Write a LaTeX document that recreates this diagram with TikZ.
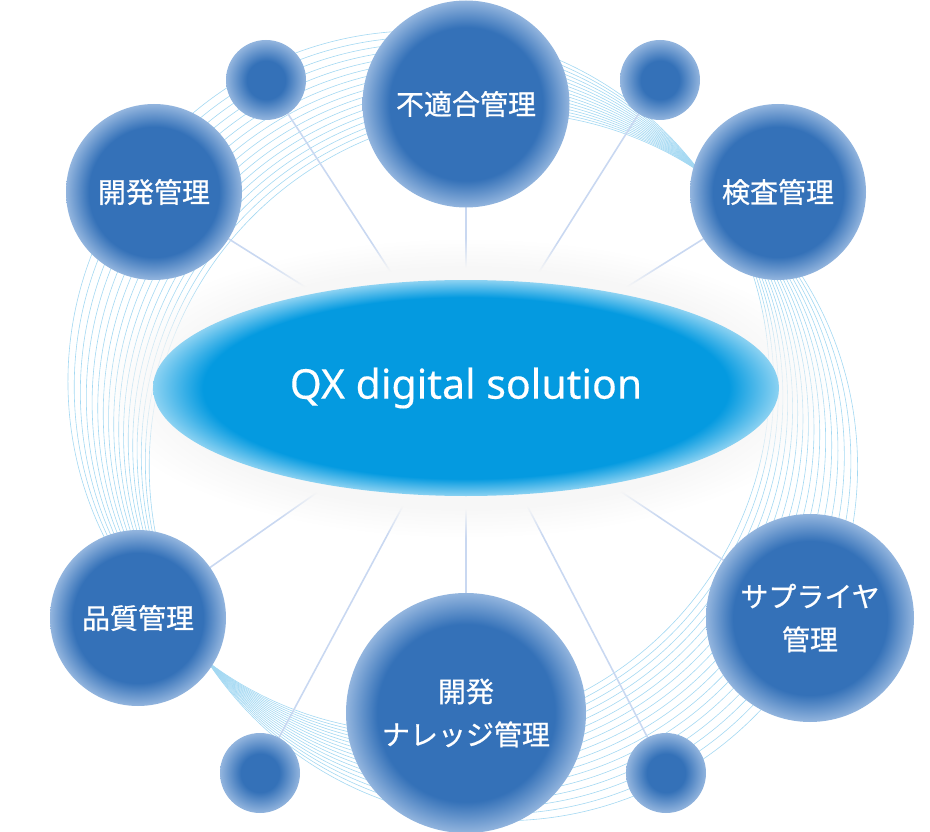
\documentclass[tikz,border=0pt]{standalone}
\usepackage{fontspec}
\setmainfont{Noto Sans CJK JP}[FakeBold=0.7]
\newfontfamily\latinfont{Noto Sans}[FakeBold=0.3]
\usetikzlibrary{shapes.geometric,fadings}
\definecolor{bblue}{HTML}{3471B8}
\definecolor{bedge}{HTML}{93B5DE}
\definecolor{cblue}{HTML}{049AE0}
\definecolor{cedge}{HTML}{8CD2F2}
\definecolor{ringc}{HTML}{A3D8F2}
\definecolor{spokec}{HTML}{C9D8F1}
\pgfdeclareradialshading{bubbleshade}{\pgfpoint{0bp}{0bp}}{color(0bp)=(bblue); color(18.5bp)=(bblue); color(25bp)=(bedge); color(50bp)=(bedge)}
\pgfdeclareradialshading{dotshade}{\pgfpoint{0bp}{0bp}}{color(0bp)=(bblue); color(12bp)=(bblue); color(25bp)=(bedge); color(50bp)=(bedge)}
\pgfdeclareradialshading{coreshade}{\pgfpoint{0bp}{0bp}}{color(0bp)=(cblue); color(21bp)=(cblue); color(25bp)=(cedge); color(50bp)=(cedge)}
\pgfdeclarelayer{lines}
\pgfdeclarelayer{haze}
\pgfsetlayers{lines,haze,main}
\begin{document}
\begin{tikzpicture}[x=1pt,y=-1pt,
        bubble/.style={circle,inner sep=0pt,outer sep=0pt,shade,shading=bubbleshade,text=white,align=center,font=\fontsize{28}{43}\selectfont},
        dot/.style={circle,inner sep=0pt,outer sep=0pt,shade,shading=dotshade,minimum size=80pt},
        core/.style={ellipse,inner sep=0pt,outer sep=0pt,shade,shading=coreshade,minimum width=626pt,minimum height=216pt,text=white,font=\latinfont\fontsize{41}{49}\selectfont},
        spoke/.style={draw=spokec,line width=1.6pt},
        ring/.style={draw=ringc,line width=.6pt}]
                \useasboundingbox (0,0) rectangle (930,832);
                \node[core] (core) at (466,388) {QX digital solution};
                \node[bubble,minimum size=207pt] (futekigo) at (466,104) {不適合管理};
                \node[bubble,minimum size=176pt] (kaihatsu) at (154,192) {開発管理};
                \node[bubble,minimum size=176pt] (kensa) at (778,192) {検査管理};
                \node[bubble,minimum size=176pt] (hinshitsu) at (138,618) {品質管理};
                \node[bubble,minimum size=208pt] (supplier) at (810,618) {サプライヤ\\管理};
                \node[bubble,minimum size=240pt] (knowledge) at (466,713) {開発\\ナレッジ管理};
                \node[dot] (dotnw) at (266,80) {};
                \node[dot] (dotne) at (660,80) {};
                \node[dot] (dotsw) at (260,773) {};
                \node[dot] (dotse) at (666,773) {};
                \begin{pgfonlayer}{lines}
                \foreach \u in {-50,-42.5,...,70}{
                        \pgfmathsetmacro\cx{454+0.7056*\u}
                        \pgfmathsetmacro\cy{417+0.7085*\u}
                        \pgfmathsetmacro\r{10*veclen(34.72,\u/10)}
                        \draw[ring] (\cx,\cy) circle[radius=\r pt];}
                \foreach \b in {futekigo,kaihatsu,kensa,hinshitsu,supplier,knowledge,dotnw,dotne,dotsw,dotse}
                        \draw[spoke] (core.center) -- (\b);
                \end{pgfonlayer}
                \begin{pgfonlayer}{haze}
                \fill[black!3,path fading=circle with fuzzy edge 20 percent] (core.center) ellipse[x radius=370pt,y radius=150pt];
                \end{pgfonlayer}
\end{tikzpicture}
\end{document}
